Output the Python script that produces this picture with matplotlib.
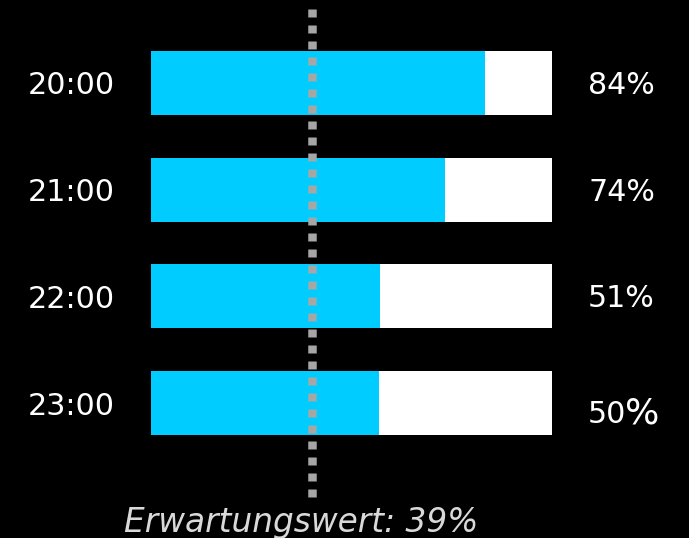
import matplotlib
matplotlib.use("Agg")
import matplotlib.pyplot as plt

# ---- data ----
categories = ["20:00", "21:00", "22:00", "23:00"]
bar_values = [83.3, 73.3, 57.1, 56.8]          # visual bar lengths on a 0-100 scale
value_labels = ["84", "74", "51", "50"]
expected_pos = 40.1                           # visual position of the reference line
expected_label = "Erwartungswert: 39%"

W, H = 689, 538
DPI = 100
fig = plt.figure(figsize=(W / DPI, H / DPI), dpi=DPI, facecolor="black")

# axes: x spans the bar track (px 151..552), y covers full height
left_px, right_px = 151, 552
ax = fig.add_axes([left_px / W, 0, (right_px - left_px) / W, 1])
ax.set_facecolor("black")
ax.set_xlim(0, 100)
row0_px, row_step = 83, 106.7
ax.set_ylim((H - row0_px) / row_step, -row0_px / row_step)
for s in ax.spines.values():
    s.set_visible(False)
ax.set_xticks([])

ys = list(range(len(categories)))
bar_h = 64 / row_step
ax.barh(ys, [100] * len(ys), height=bar_h, color="white", zorder=1)
ax.barh(ys, bar_values, height=bar_h, color="#00CCFF", zorder=2)

ax.set_yticks(ys)
ax.set_yticklabels(categories, fontsize=21.7, color="white")
ax.tick_params(axis="y", length=0, pad=26.0)

# percent labels
fs = 21.7
px = 72 / DPI
for i, lab in enumerate(value_labels):
    if i == len(value_labels) - 1:
        # last label: larger percent sign, slightly lower baseline
        ax.annotate(lab, (109, i), xytext=(0, -20 * px),
                    textcoords="offset points", fontsize=fs, color="white",
                    ha="left", va="baseline", annotation_clip=False)
        ax.annotate("%", (109, i), xytext=(37 * px, -20 * px),
                    textcoords="offset points", fontsize=26, color="white",
                    ha="left", va="baseline", annotation_clip=False)
    else:
        ax.annotate(lab + "%", (109, i), xytext=(0, -11 * px),
                    textcoords="offset points", fontsize=fs, color="white",
                    ha="left", va="baseline", annotation_clip=False)

# dotted reference line
y_top = (9 - row0_px) / row_step
y_bot = (497 - row0_px) / row_step
lw = 8.5 * px
ax.plot([expected_pos, expected_pos], [y_top, y_bot], color="#A6A6A6",
        lw=lw, dashes=(8 / 8.5, 8 / 8.5), solid_capstyle="butt",
        dash_capstyle="butt", zorder=3, clip_on=False)

fig.text(301 / W, 1 - 532 / H, expected_label, fontsize=23.6, style="italic",
         color="#D9D9D9", ha="center", va="baseline")

fig.savefig("out.png", dpi=DPI, facecolor="black")
